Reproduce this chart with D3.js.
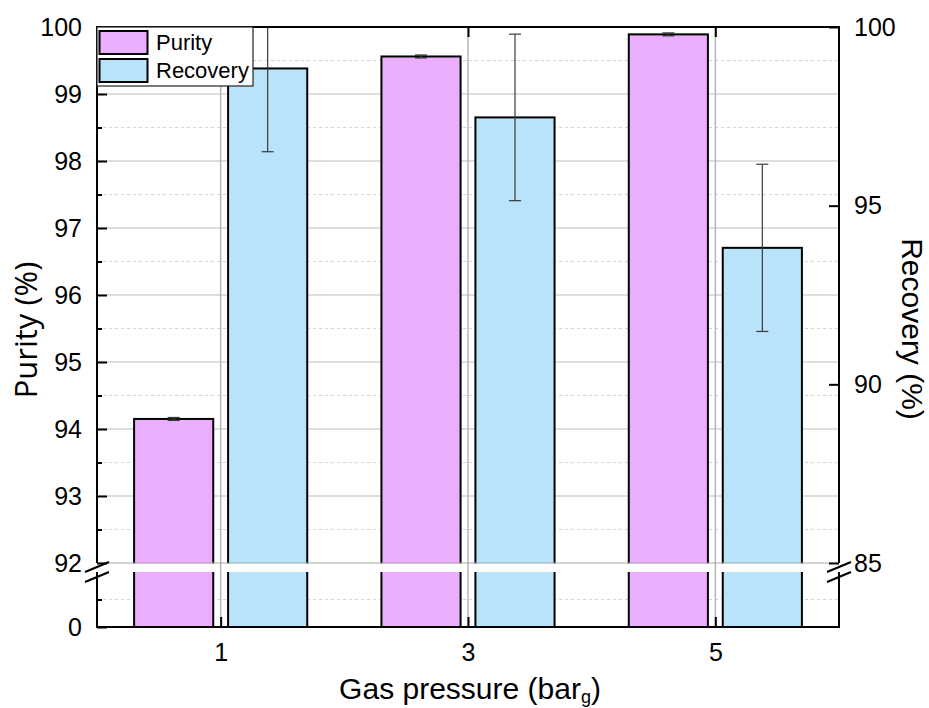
<!DOCTYPE html>
<meta charset="utf-8">
<style>
  body { margin: 0; background: #fff; }
  text { font-family: 'Liberation Sans', Arial, sans-serif; }
</style>
<svg width="929" height="708"></svg>
<script src="https://cdn.jsdelivr.net/npm/d3@7"></script>
<script>
// values
var pressures = [1, 3, 5];
var purity = [94.15, 99.56, 99.89];
var purityErr = [0.02, 0.02, 0.02];
var recovery = [98.84, 97.47, 93.82];
var recoveryErr = [2.33, 2.33, 2.34];
var leftTicks = [92, 93, 94, 95, 96, 97, 98, 99, 100];
var rightTicks = [85, 90, 95, 100];
var seriesNames = ["Purity", "Recovery"];
var colors = ["#ebaefd", "#b8e3fa"];

var svg = d3.select("svg");
var L = 97, R = 839, T = 27, B = 627;
var breakTop = 563, breakBot = 572;

var x = d3.scaleLinear().domain([0, 6]).range([L, R]);
var yL = d3.scaleLinear().domain([92, 100]).range([breakTop, T]);
var yLow = d3.scaleLinear().domain([0, 92]).range([B, breakBot]);
var yR = d3.scaleLinear().domain([85, 100]).range([breakTop, T]);

var barW = 0.64, off = 0.38;

svg.append("defs").append("clipPath").attr("id", "clip")
  .append("rect").attr("x", L).attr("y", T).attr("width", R - L).attr("height", B - T);

// grid
var grid = svg.append("g");
var minorVals = d3.range(92.5, 100, 1);
grid.selectAll(".minor").data(minorVals).enter().append("line")
    .attr("x1", L).attr("x2", R)
    .attr("y1", function(d) { return yL(d); }).attr("y2", function(d) { return yL(d); })
    .attr("stroke", "#d4d4d4").attr("stroke-dasharray", "3,3");
grid.append("line")
    .attr("x1", L).attr("x2", R).attr("y1", yLow(46)).attr("y2", yLow(46))
    .attr("stroke", "#d4d4d4").attr("stroke-dasharray", "3,3");
grid.selectAll(".major").data(leftTicks.slice(1, -1)).enter().append("line")
    .attr("x1", L).attr("x2", R)
    .attr("y1", function(d) { return yL(d); }).attr("y2", function(d) { return yL(d); })
    .attr("stroke", "#bdbdbd").attr("stroke-width", 1);
grid.selectAll(".vert").data(pressures).enter().append("line")
    .attr("x1", function(d) { return x(d); }).attr("x2", function(d) { return x(d); })
    .attr("y1", T).attr("y2", B)
    .attr("stroke", "#b5b5b5").attr("stroke-width", 1.5);

// bars
var bars = svg.append("g").attr("clip-path", "url(#clip)");
bars.selectAll(".pur").data(pressures).enter().append("rect")
    .attr("x", function(d) { return x(d - off - barW / 2); })
    .attr("width", x(barW) - x(0))
    .attr("y", function(d, i) { return yL(purity[i]); })
    .attr("height", function(d, i) { return B - yL(purity[i]); })
    .attr("fill", colors[0]).attr("stroke", "#000").attr("stroke-width", 2);
bars.selectAll(".rec").data(pressures).enter().append("rect")
    .attr("x", function(d) { return x(d + off - barW / 2); })
    .attr("width", x(barW) - x(0))
    .attr("y", function(d, i) { return yR(recovery[i]); })
    .attr("height", function(d, i) { return B - yR(recovery[i]); })
    .attr("fill", colors[1]).attr("stroke", "#000").attr("stroke-width", 2);

// error bars
function errBars(vals, errs, scale, dx, sw) {
  var g = bars.append("g").attr("stroke", "#3a3a3a").attr("stroke-width", sw);
  pressures.forEach(function(p, i) {
    var cx = x(p + dx), hi = scale(vals[i] + errs[i]), lo = scale(vals[i] - errs[i]);
    g.append("line").attr("x1", cx).attr("x2", cx).attr("y1", hi).attr("y2", lo);
    g.append("line").attr("x1", cx - 6).attr("x2", cx + 6).attr("y1", hi).attr("y2", hi);
    g.append("line").attr("x1", cx - 6).attr("x2", cx + 6).attr("y1", lo).attr("y2", lo);
  });
}
errBars(purity, purityErr, yL, -off, 1.5);
errBars(recovery, recoveryErr, yR, off, 1.2);

// axis break gap
svg.append("rect").attr("x", L - 2).attr("y", breakTop + 0.5)
    .attr("width", R - L + 4).attr("height", breakBot - breakTop - 0.5).attr("fill", "#fff");
svg.append("line").attr("x1", L).attr("x2", R).attr("y1", breakTop).attr("y2", breakTop)
    .attr("stroke", "#a8a8a8").attr("stroke-width", 1);
svg.selectAll(".vgap").data(pressures).enter().append("line")
    .attr("x1", function(d) { return x(d); }).attr("x2", function(d) { return x(d); })
    .attr("y1", breakTop).attr("y2", breakBot)
    .attr("stroke", "#b5b5b5").attr("stroke-width", 1.5);

// frame
var frame = svg.append("g").attr("stroke", "#000").attr("stroke-width", 2).attr("fill", "none");
frame.append("path").attr("d", "M" + L + "," + breakTop + "V" + T + "H" + R + "V" + breakTop);
frame.append("path").attr("d", "M" + L + "," + breakBot + "V" + B + "H" + R + "V" + breakBot);

// axes
svg.append("g").attr("transform", "translate(" + L + ",0)")
    .call(d3.axisLeft(yL).tickValues(leftTicks).tickSize(-10).tickPadding(15));
svg.append("g").attr("transform", "translate(" + L + ",0)")
    .call(d3.axisLeft(yL).tickValues(minorVals).tickSize(-5).tickFormat(""));
svg.append("g").attr("transform", "translate(" + L + ",0)")
    .call(d3.axisLeft(yLow).tickValues([0]).tickSize(-10).tickPadding(15));
svg.append("g").attr("transform", "translate(" + L + ",0)")
    .call(d3.axisLeft(yLow).tickValues([46]).tickSize(-5).tickFormat(""));
svg.append("g").attr("transform", "translate(" + R + ",0)")
    .call(d3.axisRight(yR).tickValues(rightTicks).tickSize(-10).tickPadding(15));
svg.append("g").attr("transform", "translate(0," + B + ")")
    .call(d3.axisBottom(x).tickValues(pressures).tickFormat(d3.format("d")).tickSize(-10).tickPadding(16));
svg.append("g").attr("transform", "translate(0," + T + ")")
    .call(d3.axisTop(x).tickValues(pressures).tickSize(-10).tickFormat(""));

svg.selectAll(".domain").remove();
svg.selectAll(".tick line").attr("stroke", "#000").attr("stroke-width", 2);
svg.selectAll(".tick text").attr("fill", "#000").style("font-size", "25px")
    .style("font-family", "'Liberation Sans', Arial, sans-serif");

// break marks
var brk = svg.append("g").attr("stroke", "#000").attr("stroke-width", 2);
[L, R].forEach(function(ax) {
  [breakTop + 4, breakBot + 5].forEach(function(yy) {
    brk.append("line").attr("x1", ax - 12).attr("y1", yy + 5).attr("x2", ax + 12).attr("y2", yy - 5);
  });
});

// legend
var lg = svg.append("g");
lg.append("rect").attr("x", L).attr("y", T).attr("width", 156).attr("height", 59)
    .attr("fill", "#fff").attr("stroke", "#222").attr("stroke-width", 1.2);
seriesNames.forEach(function(n, i) {
  lg.append("rect").attr("x", L + 2.5).attr("y", T + 4 + i * 28).attr("width", 48).attr("height", 23)
      .attr("fill", colors[i]).attr("stroke", "#000").attr("stroke-width", 2);
  lg.append("text").attr("x", L + 59).attr("y", T + 23 + i * 28)
      .style("font-size", "22px").attr("fill", "#000").text(n);
});

// titles
svg.append("text").attr("transform", "translate(37,330) rotate(-90)")
    .attr("text-anchor", "middle").style("font-family", "'Open Sans', sans-serif")
    .style("font-size", "31px").text("Purity (%)");
svg.append("text").attr("transform", "translate(902,329) rotate(90)")
    .attr("text-anchor", "middle").style("font-size", "30px").text("Recovery (%)");
var xt = svg.append("text").attr("x", 470).attr("y", 699).attr("text-anchor", "middle")
    .style("font-size", "30px");
xt.append("tspan").text("Gas pressure (bar");
xt.append("tspan").attr("dy", 4).style("font-size", "18px").text("g");
xt.append("tspan").attr("dy", -4).text(")");
</script>
